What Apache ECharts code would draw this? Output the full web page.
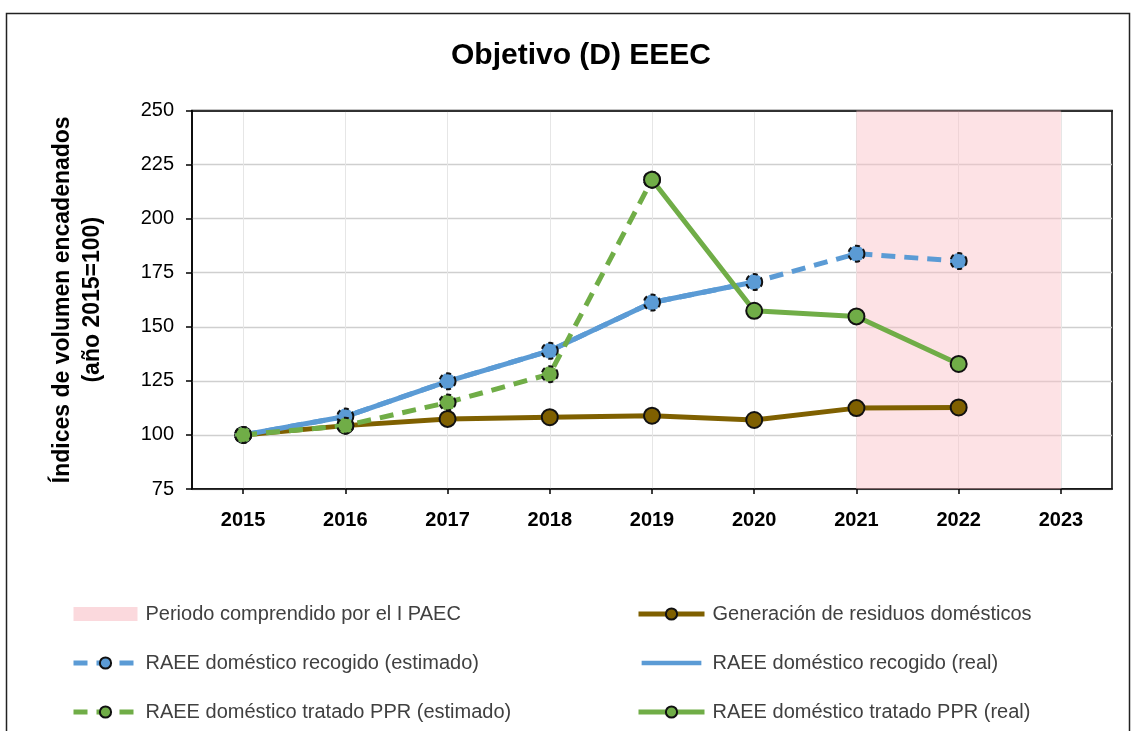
<!DOCTYPE html>
<html>
<head>
<meta charset="utf-8">
<script src="https://cdn.jsdelivr.net/npm/echarts@6/dist/echarts.min.js"></script>
<style>
html,body{margin:0;padding:0;background:#fff;}
#chart{width:1131px;height:731px;}
</style>
</head>
<body>
<div id="chart"></div>
<script>
var years = [2015, 2016, 2017, 2018, 2019, 2020, 2021, 2022];
var yearTicks = [2015, 2016, 2017, 2018, 2019, 2020, 2021, 2022, 2023];
var generacion = [100, 104.3, 107.4, 108.2, 108.9, 106.9, 112.4, 112.7];
var recogidoEstimado = [100, 108.5, 124.8, 138.9, 161.2, 170.7, 183.8, 180.4];
var recogidoReal = [100, 108.5, 124.8, 138.9, 161.2, 170.7, null, null];
var tratadoEstimado = [100, 104.3, 115.0, 128.1, 218.0, null, null, null];
var tratadoReal = [null, null, null, null, 218.0, 157.4, 154.8, 132.8];
var paecPeriod = [2021, 2023];

function pairs(vals) {
  var out = [];
  for (var i = 0; i < years.length; i++) {
    if (vals[i] !== null) out.push([years[i], vals[i]]);
  }
  return out;
}

var FONT = 'Liberation Sans';
var BLUE = '#5B9BD5', GREEN = '#70AD47', BROWN = '#7F6000', PINK = 'rgba(250,190,198,0.45)';
var LW = 5, SS = 16;

var legendText = {fontFamily: FONT, fontSize: 20, color: '#404040', padding: [0, 0, 0, 3]};
var plainLineIcon = 'path://M0,0L0.01,0L0.01,0Z M0,5L64,5L64,10L0,10Z M0,15L0.01,15L0.01,15Z';

var chart = echarts.init(document.getElementById('chart'));
chart.setOption({
  animation: false,
  backgroundColor: '#fff',
  textStyle: {fontFamily: FONT},
  graphic: [{
    type: 'rect', left: 4, top: 11, z: -10,
    shape: {width: 1123, height: 740},
    style: {fill: 'none', stroke: '#222', lineWidth: 1.5}
  }],
  title: {
    text: 'Objetivo (D) EEEC', left: 446, top: 36,
    textStyle: {fontFamily: FONT, fontSize: 30, fontWeight: 'bold', color: '#000'}
  },
  grid: {left: 192, right: 19, top: 110.5, bottom: 242, show: true, borderColor: '#000', borderWidth: 1.5, containLabel: false},
  xAxis: [{
    type: 'value', min: 2014.5, max: 2023.5, interval: 0.5,
    axisLine: {show: true, lineStyle: {color: '#000', width: 1.5}},
    axisTick: {show: true, customValues: yearTicks, length: 5, lineStyle: {color: '#000', width: 1.5}},
    axisLabel: {customValues: yearTicks, formatter: function (v) { return String(v); }, margin: 21,
      fontFamily: FONT, fontSize: 20, fontWeight: 'bold', color: '#000'},
    splitLine: {show: true, lineStyle: {color: '#e6e6e6', width: 1}}
  }, {
    type: 'value', position: 'top', min: 2014.5, max: 2023.5, interval: 0.5,
    axisLine: {show: true, onZero: false, lineStyle: {color: '#000', width: 1.5}},
    axisTick: {show: false}, axisLabel: {show: false}, splitLine: {show: false}
  }],
  yAxis: {
    type: 'value', min: 75, max: 250, interval: 25,
    name: 'Índices de volumen encadenados\n(año 2015=100)',
    nameLocation: 'middle', nameGap: 84, nameRotate: 90,
    nameTextStyle: {fontFamily: FONT, fontSize: 23, fontWeight: 'bold', color: '#000', lineHeight: 30},
    axisLine: {show: true, lineStyle: {color: '#000', width: 1.5}},
    axisTick: {show: true, length: 6, lineStyle: {color: '#000', width: 1.5}},
    axisLabel: {fontFamily: FONT, fontSize: 20, color: '#000', margin: 18},
    splitLine: {show: true, lineStyle: {color: '#cfcfcf', width: 1.4}}
  },
  legend: [{
    orient: 'vertical', left: 71, top: 604, padding: 0, itemGap: 29, itemWidth: 64, itemHeight: 14,
    lineStyle: {width: LW},
    textStyle: legendText,
    data: [
      {name: 'Periodo comprendido por el I PAEC', icon: 'rect'},
      'RAEE doméstico recogido (estimado)',
      'RAEE doméstico tratado PPR (estimado)'
    ]
  }, {
    orient: 'vertical', left: 636, top: 604, padding: 0, itemGap: 29, itemWidth: 66, itemHeight: 14,
    lineStyle: {width: LW},
    textStyle: legendText,
    data: [
      'Generación de residuos domésticos',
      {name: 'RAEE doméstico recogido (real)', icon: plainLineIcon},
      'RAEE doméstico tratado PPR (real)'
    ]
  }],
  series: [{
    name: 'Periodo comprendido por el I PAEC', type: 'line', data: [],
    itemStyle: {color: '#fbd9dd'}, lineStyle: {color: '#fbd9dd'}
  }, {
    name: 'Generación de residuos domésticos', type: 'line', data: pairs(generacion), z: 2,
    symbol: 'circle', symbolSize: SS,
    lineStyle: {color: BROWN, width: LW},
    itemStyle: {color: BROWN, borderColor: '#111', borderWidth: 2},
    markArea: {silent: true, itemStyle: {color: PINK}, data: [[{xAxis: paecPeriod[0]}, {xAxis: paecPeriod[1]}]]}
  }, {
    name: 'RAEE doméstico recogido (real)', type: 'line', data: pairs(recogidoReal), z: 3,
    symbol: 'none',
    lineStyle: {color: BLUE, width: LW},
    itemStyle: {color: BLUE}
  }, {
    name: 'RAEE doméstico recogido (estimado)', type: 'line', data: pairs(recogidoEstimado), z: 4,
    symbol: 'circle', symbolSize: SS,
    lineStyle: {color: BLUE, width: LW, type: [14, 9]},
    itemStyle: {color: BLUE, borderColor: '#111', borderWidth: 2, borderType: [5, 4]}
  }, {
    name: 'RAEE doméstico tratado PPR (estimado)', type: 'line', data: pairs(tratadoEstimado), z: 5,
    symbol: 'circle', symbolSize: SS,
    lineStyle: {color: GREEN, width: LW, type: [14, 9]},
    itemStyle: {color: GREEN, borderColor: '#111', borderWidth: 2, borderType: [5, 4]}
  }, {
    name: 'RAEE doméstico tratado PPR (real)', type: 'line', data: pairs(tratadoReal), z: 6,
    symbol: 'circle', symbolSize: SS,
    lineStyle: {color: GREEN, width: LW},
    itemStyle: {color: GREEN, borderColor: '#111', borderWidth: 2}
  }]
});
</script>
</body>
</html>
